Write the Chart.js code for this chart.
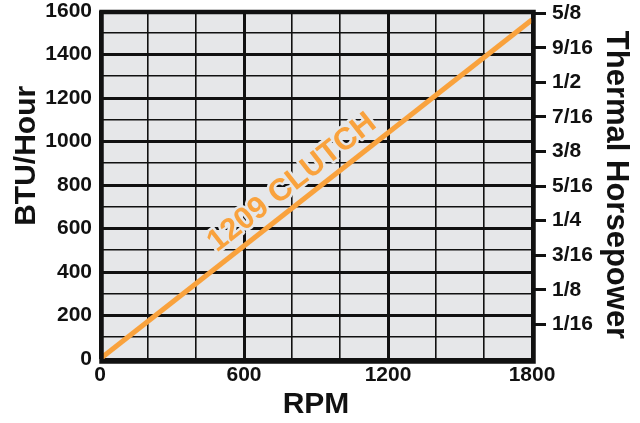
<!DOCTYPE html>
<html>
<head>
<meta charset="utf-8">
<script src="https://cdn.jsdelivr.net/npm/chart.js@4"></script>
<style>
  body { margin: 0; background: #fff; }
</style>
</head>
<body>
<canvas id="grafico_clutch" width="640" height="423"></canvas>
<script>
// dados
const rpm = [0, 1800];
const btuHour = [0, 1560];
const hpValues = [0, 0.0625, 0.125, 0.1875, 0.25, 0.3125, 0.375, 0.4375, 0.5, 0.5625, 0.625];
const hpLabels = ['', '1/16', '1/8', '3/16', '1/4', '5/16', '3/8', '7/16', '1/2', '9/16', '5/8'];
const serieNome = '1209 CLUTCH';
const labelRpm = 800;   // onde o texto da linha fica
const labelBtu = 810;
const BTU_POR_HP = 2544.43;

const laranja = '#f9a23d';
const preto = '#111';
const fonteTicks = "'Liberation Sans', Arial, sans-serif";
const fonteTitulo = "'Liberation Sans', Arial, sans-serif";

// fundo cinza + moldura grossa
const moldura = {
    id: 'moldura',
    beforeDraw(chart) {
        const a = chart.chartArea;
        const ctx = chart.ctx;
        ctx.save();
        ctx.fillStyle = '#e6e7e9';
        ctx.fillRect(a.left, a.top, a.right - a.left, a.bottom - a.top);
        ctx.restore();
    },
    afterDatasetsDraw(chart) {
        const a = chart.chartArea;
        const ctx = chart.ctx;
        ctx.save();
        ctx.strokeStyle = preto;
        ctx.lineWidth = 4.5;
        ctx.strokeRect(a.left + 1.5, a.top + 1, a.right - a.left, a.bottom - a.top + 1.5);

        // texto da serie ao longo da linha
        const x = chart.scales.x, y = chart.scales.y;
        const x0 = x.getPixelForValue(rpm[0]), y0 = y.getPixelForValue(btuHour[0]);
        const x1 = x.getPixelForValue(rpm[1]), y1 = y.getPixelForValue(btuHour[1]);
        const ang = Math.atan2(y1 - y0, x1 - x0);
        ctx.translate(x.getPixelForValue(labelRpm), y.getPixelForValue(labelBtu));
        ctx.rotate(ang);
        ctx.font = "bold 31px " + fonteTitulo;
        ctx.textAlign = 'center';
        ctx.textBaseline = 'middle';
        ctx.lineJoin = 'round';
        ctx.strokeStyle = '#e6e7e9';
        ctx.lineWidth = 5;
        ctx.strokeText(serieNome, 0, 0);
        ctx.fillStyle = laranja;
        ctx.fillText(serieNome, 0, 0);
        ctx.restore();
    }
};

const data_clutch = {
    datasets: [{
        label: serieNome,
        data: rpm.map((r, i) => ({ x: r, y: btuHour[i] })),
        borderColor: laranja,
        backgroundColor: laranja,
        borderWidth: 5,
        pointRadius: 0,
        tension: 0
    }]
};

const config_clutch = {
    type: 'line',
    data: data_clutch,
    plugins: [moldura],
    options: {
        responsive: false,
        animation: false,
        layout: { padding: { top: 11, left: 0, right: 0, bottom: 0 } },
        plugins: { legend: { display: false }, tooltip: { enabled: false } },
        scales: {
            x: {
                type: 'linear',
                min: 0,
                max: 1800,
                afterFit(s) { s.height = 64; s.paddingLeft = 0; s.paddingRight = 0; },
                border: { display: false },
                grid: {
                    color: preto,
                    lineWidth: c => (c.tick && c.tick.value % 600 === 0) ? 3 : 1.6,
                    drawTicks: false
                },
                ticks: {
                    stepSize: 200,
                    autoSkip: false,
                    maxRotation: 0,
                    padding: 4,
                    color: preto,
                    font: { family: fonteTicks, size: 21, weight: 'bold' },
                    callback: v => v % 600 === 0 ? v : ''
                },
                title: {
                    display: true,
                    text: 'RPM',
                    color: preto,
                    font: { family: fonteTitulo, size: 30, weight: 'bold' },
                    padding: { top: 2, bottom: 0 }
                }
            },
            y: {
                min: 0,
                max: 1600,
                afterFit(s) { s.width = 100; s.paddingTop = 0; s.paddingBottom = 0; },
                border: { display: false },
                grid: {
                    color: preto,
                    lineWidth: c => (c.tick && c.tick.value % 200 === 0) ? 3 : 1.6,
                    drawTicks: false
                },
                ticks: {
                    stepSize: 100,
                    autoSkip: false,
                    padding: 8,
                    color: preto,
                    font: { family: fonteTicks, size: 21, weight: 'bold' },
                    callback: v => v % 200 === 0 ? v : ''
                },
                title: {
                    display: true,
                    // espaços no começo sobem o título, como no original
                    text: '       BTU/Hour',
                    color: preto,
                    font: { family: fonteTitulo, size: 30, weight: 'bold' },
                    padding: { top: 9, bottom: 0 }
                }
            },
            y2: {
                position: 'right',
                min: 0,
                max: 1600 / BTU_POR_HP,
                afterFit(s) { s.width = 108; s.paddingTop = 0; s.paddingBottom = 0; },
                afterBuildTicks(s) { s.ticks = hpValues.map(v => ({ value: v })); },
                border: { display: false },
                grid: {
                    drawOnChartArea: false,
                    drawTicks: true,
                    tickLength: 14,
                    tickWidth: 3,
                    tickColor: c => (c.tick && c.tick.value === 0) ? 'rgba(0,0,0,0)' : preto
                },
                ticks: {
                    autoSkip: false,
                    padding: 6,
                    color: preto,
                    font: { family: fonteTicks, size: 21, weight: 'bold' },
                    callback: (v, i) => hpLabels[i]
                },
                title: {
                    display: true,
                    text: 'Thermal Horsepower',
                    color: preto,
                    font: { family: fonteTitulo, size: 31, weight: 'bold' },
                    padding: { top: 6, bottom: 0 }
                }
            }
        }
    }
};

const grafico_clutch = new Chart(
    document.getElementById('grafico_clutch'),
    config_clutch
);
</script>
</body>
</html>
